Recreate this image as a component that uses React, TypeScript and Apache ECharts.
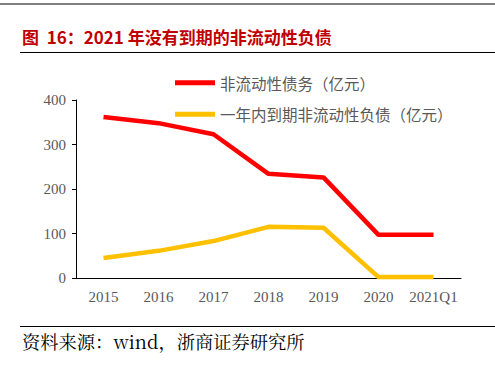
import React, { useEffect, useRef } from "react";
import * as echarts from "echarts";

const categories = ["2015", "2016", "2017", "2018", "2019", "2020", "2021Q1"];
const nonCurrentDebt = [362, 348, 323, 234, 226, 97, 97];
const dueWithinYear = [45, 61, 83, 115, 113, 2, 2];
const seriesNames = ["非流动性债务（亿元）", "一年内到期非流动性负债（亿元）"];
const titleText = "图  16：2021 年没有到期的非流动性负债";
const sourceText = "资料来源：wind，浙商证券研究所";

export default function App() {
  const ref = useRef<HTMLDivElement>(null);
  useEffect(() => {
    const chart = echarts.init(ref.current!, null, { renderer: "svg" });
    const serif = "'Liberation Serif', 'Times New Roman', serif";
    const cjk = "'Noto Sans CJK SC', sans-serif";
    chart.setOption({
      animation: false,
      backgroundColor: "#ffffff",
      grid: { left: 76, right: 34, top: 100, bottom: 87 },
      graphic: [
        { type: "rect", shape: { x: 0, y: 3, width: 495, height: 2 }, style: { fill: "#808080" } },
        {
          type: "text",
          x: 22,
          y: 28,
          style: { text: titleText, fill: "#C00000", font: `bold 17px ${cjk}` },
        },
        { type: "rect", shape: { x: 20, y: 52, width: 475, height: 1 }, style: { fill: "#000000" } },
        { type: "rect", shape: { x: 20, y: 326, width: 475, height: 1 }, style: { fill: "#000000" } },
        {
          type: "text",
          x: 22,
          y: 332,
          style: { text: sourceText, fill: "#000000", font: `18.3px 'Noto Serif CJK SC', ${cjk}` },
        },
      ],
      legend: {
        orient: "vertical",
        left: 175,
        top: 75,
        padding: 0,
        itemWidth: 40,
        itemHeight: 5,
        itemGap: 16,
        icon: "rect",
        textStyle: { color: "#595959", fontSize: 15.5, fontFamily: cjk },
        data: seriesNames,
      },
      xAxis: {
        type: "category",
        data: categories,
        boundaryGap: true,
        axisLine: { lineStyle: { color: "#000000", width: 1 } },
        axisTick: { show: false },
        axisLabel: { color: "#595959", fontSize: 15, fontFamily: serif, margin: 11, interval: 0 },
      },
      yAxis: {
        type: "value",
        min: 0,
        max: 400,
        interval: 100,
        axisLine: { show: true, lineStyle: { color: "#000000", width: 1 } },
        axisTick: { show: true, length: 4, inside: false, lineStyle: { color: "#000000" } },
        splitLine: { show: false },
        axisLabel: { color: "#595959", fontSize: 15, fontFamily: serif, margin: 10 },
      },
      series: [
        {
          name: seriesNames[0],
          type: "line",
          data: nonCurrentDebt,
          symbol: "none",
          lineStyle: { color: "#FF0000", width: 4.5 },
          itemStyle: { color: "#FF0000" },
        },
        {
          name: seriesNames[1],
          type: "line",
          data: dueWithinYear,
          symbol: "none",
          lineStyle: { color: "#FFC000", width: 4.5 },
          itemStyle: { color: "#FFC000" },
        },
      ],
    });
    return () => chart.dispose();
  }, []);
  return <div ref={ref} style={{ width: 495, height: 365, position: "absolute", left: 0, top: 0 }} />;
}
